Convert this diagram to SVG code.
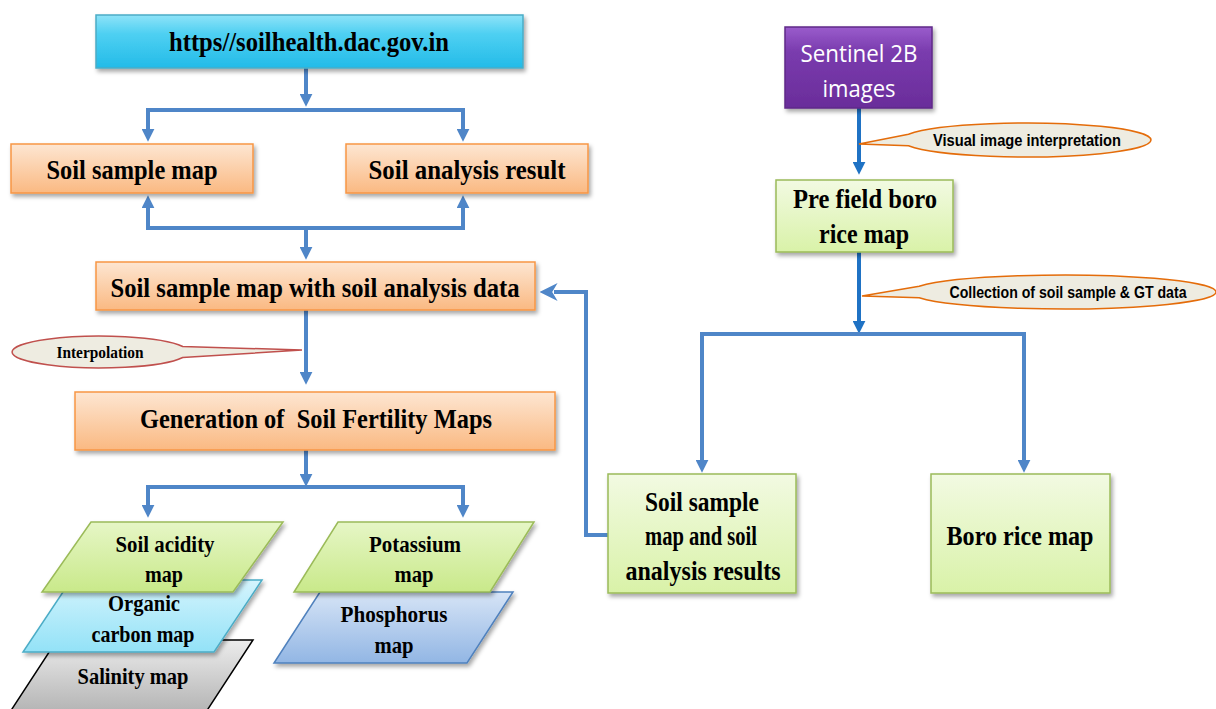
<svg xmlns="http://www.w3.org/2000/svg" width="1216" height="709" viewBox="0 0 1216 709">
<defs>
<linearGradient id="gBlue" x1="0" y1="0" x2="0" y2="1"><stop offset="0" stop-color="#8ee3f8"/><stop offset="0.35" stop-color="#4fd0f2"/><stop offset="1" stop-color="#22bbe8"/></linearGradient>
<linearGradient id="gOrange" x1="0" y1="0" x2="0" y2="1"><stop offset="0" stop-color="#fde6d2"/><stop offset="1" stop-color="#fab982"/></linearGradient>
<linearGradient id="gPurple" x1="0" y1="0" x2="0" y2="1"><stop offset="0" stop-color="#9a5ccc"/><stop offset="0.3" stop-color="#7a3cae"/><stop offset="1" stop-color="#6a2c9a"/></linearGradient>
<linearGradient id="gGreen" x1="0" y1="0" x2="0" y2="1"><stop offset="0" stop-color="#f2fae2"/><stop offset="1" stop-color="#d9f2a8"/></linearGradient>
<linearGradient id="gGreenP" x1="0" y1="0" x2="0" y2="1"><stop offset="0" stop-color="#e6f6c6"/><stop offset="1" stop-color="#c9e98a"/></linearGradient>
<linearGradient id="gCyanP" x1="0" y1="0" x2="0" y2="1"><stop offset="0" stop-color="#d4f4fd"/><stop offset="1" stop-color="#93e2f7"/></linearGradient>
<linearGradient id="gBlueP" x1="0" y1="0" x2="0" y2="1"><stop offset="0" stop-color="#d6e4f6"/><stop offset="1" stop-color="#92b6e4"/></linearGradient>
<linearGradient id="gGrey" x1="0" y1="0" x2="0" y2="1"><stop offset="0" stop-color="#ececec"/><stop offset="1" stop-color="#b4b4b4"/></linearGradient>
<filter id="sh" x="-10%" y="-10%" width="130%" height="140%"><feDropShadow dx="2" dy="3" stdDeviation="2" flood-color="#000" flood-opacity="0.35"/></filter>
<marker id="ah" viewBox="0 0 10 10" refX="1" refY="5" markerWidth="13" markerHeight="13" markerUnits="userSpaceOnUse" orient="auto-start-reverse"><path d="M0,0 L10,5 L0,10 z" fill="#4f86c8"/></marker>
<marker id="ahd" viewBox="0 0 10 10" refX="1" refY="5" markerWidth="13" markerHeight="13" markerUnits="userSpaceOnUse" orient="auto"><path d="M0,0 L10,5 L0,10 z" fill="#1f72c4"/></marker>
<marker id="ahc" viewBox="0 0 10 10" refX="2" refY="5" markerWidth="18" markerHeight="22" markerUnits="userSpaceOnUse" orient="auto"><path d="M0,0 L10,5 L0,10 L3,5 z" fill="#4f86c8"/></marker>
<style>
.t{font-family:"Liberation Serif","Times New Roman",serif;font-weight:bold;fill:#000;text-anchor:middle}
.s{font-family:"Liberation Sans",Arial,sans-serif;font-weight:bold;fill:#000;text-anchor:middle}
.m{font-size:27px}
.p{font-size:24px}
.c{stroke:#4f86c8;stroke-width:4;fill:none}
.cd{stroke:#1f72c4;stroke-width:4;fill:none}
.or{fill:url(#gOrange);stroke:#f79646;stroke-width:1.5;filter:url(#sh)}
.gr{fill:url(#gGreen);stroke:#9bbb59;stroke-width:1.5;filter:url(#sh)}
</style>
</defs>
<rect width="1216" height="709" fill="#fff"/>

<g id="connectors">
<path class="c" d="M306,68 V95" marker-end="url(#ah)"/>
<path class="c" d="M148,130 V110 H463 V130" marker-start="url(#ah)" marker-end="url(#ah)"/>
<path class="c" d="M148,207 V228 H463 V207" marker-start="url(#ah)" marker-end="url(#ah)"/>
<path class="c" d="M306,228 V248" marker-end="url(#ah)"/>
<path class="c" d="M306,310 V373" marker-end="url(#ah)"/>
<path class="c" d="M306,450 V475" marker-end="url(#ah)"/>
<path class="c" d="M148,506 V487 H463 V506" marker-start="url(#ah)" marker-end="url(#ah)"/>
<path class="c" d="M608,535 H586 V292 H554" marker-end="url(#ahc)"/>
<path class="cd" d="M859,108 V163" marker-end="url(#ahd)"/>
<path class="cd" d="M859,252 V322" marker-end="url(#ahd)"/>
<path class="c" d="M702,461 V334 H1024 V461" marker-start="url(#ah)" marker-end="url(#ah)"/>
</g>

<g id="url">
<rect x="96" y="15" width="427" height="53" fill="url(#gBlue)" stroke="#4bacc6" stroke-width="1.5" filter="url(#sh)"/>
<text class="t m" x="309" y="51" textLength="280" lengthAdjust="spacingAndGlyphs">https//soilhealth.dac.gov.in</text>
</g>
<g id="soil-sample-map">
<rect class="or" x="11" y="144" width="242" height="49"/>
<text class="t m" x="132" y="179" textLength="171" lengthAdjust="spacingAndGlyphs">Soil sample map</text>
</g>
<g id="soil-analysis-result">
<rect class="or" x="346" y="144" width="242" height="49"/>
<text class="t m" x="467" y="179" textLength="197" lengthAdjust="spacingAndGlyphs">Soil analysis result</text>
</g>
<g id="soil-sample-map-data">
<rect class="or" x="96" y="262" width="439" height="48"/>
<text class="t m" x="315" y="297" textLength="409" lengthAdjust="spacingAndGlyphs">Soil sample map with soil analysis data</text>
</g>
<g id="interpolation">
<path d="M302,350 L182.7,346.5 A88,16 0 1,0 182.7,357.5 Z" fill="#eeece1" stroke="#c0504d" stroke-width="1.5"/>
<text class="t" x="100" y="358" font-size="16" textLength="87" lengthAdjust="spacingAndGlyphs">Interpolation</text>
</g>
<g id="generation">
<rect class="or" x="75" y="392" width="480" height="58"/>
<text class="t m" x="316" y="428" textLength="352" lengthAdjust="spacingAndGlyphs" style="white-space:pre">Generation of  Soil Fertility Maps</text>
</g>

<g id="salinity-map">
<polygon points="57,640 253,640 206,712 10,712" fill="url(#gGrey)" stroke="#000" stroke-width="1.5"/>
<text class="t p" x="133" y="684" textLength="111" lengthAdjust="spacingAndGlyphs">Salinity map</text>
</g>
<g id="organic-carbon-map">
<polygon points="71,580 262,580 214,652 23,652" fill="url(#gCyanP)" stroke="#4bacc6" stroke-width="1.5" filter="url(#sh)"/>
<text class="t p" x="144" y="611" textLength="72" lengthAdjust="spacingAndGlyphs">Organic</text>
<text class="t p" x="143" y="642" textLength="103" lengthAdjust="spacingAndGlyphs">carbon map</text>
</g>
<g id="soil-acidity-map">
<polygon points="91,522 283,522 233,592 42,592" fill="url(#gGreenP)" stroke="#9bbb59" stroke-width="1.5" filter="url(#sh)"/>
<text class="t p" x="165" y="552" textLength="99" lengthAdjust="spacingAndGlyphs">Soil acidity</text>
<text class="t p" x="164" y="582" textLength="38" lengthAdjust="spacingAndGlyphs">map</text>
</g>
<g id="phosphorus-map">
<polygon points="320,592 513,592 467,663 274,663" fill="url(#gBlueP)" stroke="#4f81bd" stroke-width="1.5" filter="url(#sh)"/>
<text class="t p" x="394" y="622" textLength="107" lengthAdjust="spacingAndGlyphs">Phosphorus</text>
<text class="t p" x="394" y="653" textLength="39" lengthAdjust="spacingAndGlyphs">map</text>
</g>
<g id="potassium-map">
<polygon points="338,522 534,522 490,592 294,592" fill="url(#gGreenP)" stroke="#9bbb59" stroke-width="1.5" filter="url(#sh)"/>
<text class="t p" x="415" y="552" textLength="92" lengthAdjust="spacingAndGlyphs">Potassium</text>
<text class="t p" x="414" y="582" textLength="39" lengthAdjust="spacingAndGlyphs">map</text>
</g>

<g id="sentinel">
<rect x="785" y="27" width="147" height="81" fill="url(#gPurple)" stroke="#5f2a88" stroke-width="1.5" filter="url(#sh)"/>
<text x="859" y="62" font-size="24" font-family="'Open Sans','Noto Sans',sans-serif" fill="#fff" text-anchor="middle" textLength="117" lengthAdjust="spacingAndGlyphs">Sentinel 2B</text>
<text x="859" y="97" font-size="24" font-family="'Open Sans','Noto Sans',sans-serif" fill="#fff" text-anchor="middle" textLength="73" lengthAdjust="spacingAndGlyphs">images</text>
</g>
<g id="visual-interpretation">
<path d="M859,144 L908.5,134.2 A125,17 0 1,1 908.5,145.8 Z" fill="#eeece1" stroke="#e46c0a" stroke-width="1.5"/>
<text class="s" x="1027" y="146" font-size="16" textLength="188" lengthAdjust="spacingAndGlyphs">Visual  image interpretation</text>
</g>
<g id="pre-field">
<rect class="gr" x="776" y="180" width="177" height="72"/>
<text class="t m" x="865" y="208" textLength="144" lengthAdjust="spacingAndGlyphs">Pre field boro</text>
<text class="t m" x="864" y="243" textLength="90" lengthAdjust="spacingAndGlyphs">rice map</text>
</g>
<g id="collection">
<path d="M862,296 L919.2,286.2 A153,17 0 1,1 919.2,297.8 Z" fill="#eeece1" stroke="#e46c0a" stroke-width="1.5"/>
<text class="s" x="1068" y="298" font-size="16" textLength="237" lengthAdjust="spacingAndGlyphs">Collection of soil sample &amp; GT data</text>
</g>
<g id="soil-sample-results">
<rect class="gr" x="608" y="474" width="188" height="119"/>
<text class="t m" x="702" y="511" textLength="114" lengthAdjust="spacingAndGlyphs">Soil sample</text>
<text class="t m" x="701" y="545" textLength="112" lengthAdjust="spacingAndGlyphs">map and soil</text>
<text class="t m" x="703" y="580" textLength="155" lengthAdjust="spacingAndGlyphs">analysis results</text>
</g>
<g id="boro-rice-map">
<rect class="gr" x="931" y="474" width="179" height="119"/>
<text class="t m" x="1020" y="545" textLength="147" lengthAdjust="spacingAndGlyphs">Boro rice map</text>
</g>
</svg>
